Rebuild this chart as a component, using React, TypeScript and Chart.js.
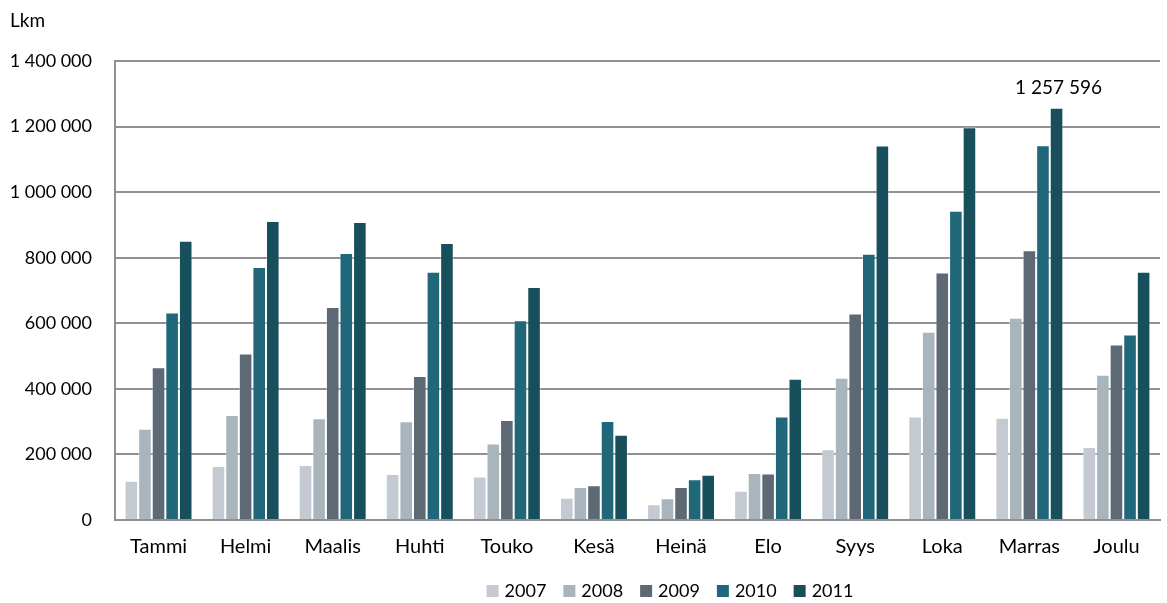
import React, { useEffect, useRef } from "react";
import { Chart, registerables } from "chart.js";

Chart.register(...registerables);

const months = ["Tammi", "Helmi", "Maalis", "Huhti", "Touko", "Kesä", "Heinä", "Elo", "Syys", "Loka", "Marras", "Joulu"];
const years = ["2007", "2008", "2009", "2010", "2011"];
const colors = ["#c3cad1", "#a9b5bd", "#5d6975", "#1f6779", "#184f5c"];

const v2007 = [120000, 165000, 168000, 140000, 133000, 68000, 48000, 89000, 216000, 316000, 312000, 223000];
const v2008 = [278000, 320000, 310000, 301000, 233000, 101000, 66000, 143000, 434000, 574000, 617000, 443000];
const v2009 = [466000, 508000, 650000, 439000, 305000, 106000, 101000, 142000, 630000, 755000, 823000, 535000];
const v2010 = [633000, 772000, 814000, 757000, 609000, 302000, 124000, 316000, 812000, 943000, 1143000, 566000];
const v2011 = [852000, 912000, 909000, 845000, 711000, 260000, 138000, 431000, 1142000, 1198000, 1257596, 757000];

const seriesValues = [v2007, v2008, v2009, v2010, v2011];
const yTicks = [0, 200000, 400000, 600000, 800000, 1000000, 1200000, 1400000];
const labelled = { dataset: 4, index: 10 };

const FONT = "Lato, 'Open Sans', sans-serif";

const fmt = (n: number) => String(Math.round(n)).replace(/\B(?=(\d{3})+(?!\d))/g, " ");

export default function App() {
  const ref = useRef<HTMLCanvasElement | null>(null);

  useEffect(() => {
    document.body.style.margin = "0";
    const canvas = ref.current;
    if (!canvas) return;

    const extras = {
      id: "extras",
      afterDraw(chart: any) {
        const ctx = chart.ctx;
        ctx.save();
        ctx.fillStyle = "#000";
        ctx.font = `19px ${FONT}`;
        ctx.textAlign = "left";
        ctx.textBaseline = "middle";
        ctx.fillText("Lkm", 10, 21);

        // value label above the highlighted bar
        const meta = chart.getDatasetMeta(labelled.dataset);
        const el = meta.data[labelled.index];
        if (el) {
          ctx.textAlign = "center";
          ctx.fillText(fmt(seriesValues[labelled.dataset][labelled.index]), el.x + 2, el.y - 20);
        }

        // legend
        ctx.font = `18px ${FONT}`;
        ctx.textAlign = "left";
        const box = 12;
        const gap = 6;
        const spacing = 17;
        const items = chart.data.datasets.map((d: any) => ({ text: d.label, color: d.backgroundColor }));
        const widths = items.map((it: any) => box + gap + ctx.measureText(it.text).width);
        const total = widths.reduce((a: number, b: number) => a + b, 0) + spacing * (items.length - 1);
        let x = 670 - total / 2;
        const cy = 591;
        items.forEach((it: any, i: number) => {
          ctx.fillStyle = it.color;
          ctx.fillRect(x, cy - box / 2, box, box);
          ctx.fillStyle = "#000";
          ctx.fillText(it.text, x + box + gap, cy);
          x += widths[i] + spacing;
        });
        ctx.restore();
      },
    };

    const chart = new Chart(canvas, {
      type: "bar",
      data: {
        labels: months,
        datasets: years.map((y, i) => ({
          label: y,
          data: seriesValues[i],
          backgroundColor: colors[i],
          borderColor: "rgba(255,255,255,0.35)",
          borderWidth: 1,
          categoryPercentage: 0.78,
          barPercentage: 1,
        })),
      },
      options: {
        animation: false,
        responsive: false,
        maintainAspectRatio: false,
        layout: { padding: { left: 0, right: 7, top: 61, bottom: 0 } },
        plugins: {
          legend: { display: false },
          tooltip: { enabled: false },
        },
        scales: {
          x: {
            afterFit: (scale: any) => {
              scale.height = 83;
            },
            grid: { display: false, drawTicks: false },
            border: { display: true, color: "#8f8f94", width: 2 },
            ticks: { color: "#000", padding: 15, font: { family: FONT, size: 20 } },
          },
          y: {
            min: 0,
            max: 1400000,
            afterFit: (scale: any) => {
              scale.width = 115;
            },
            afterBuildTicks: (scale: any) => {
              scale.ticks = yTicks.map((v) => ({ value: v }));
            },
            grid: { color: "#8f8f94", lineWidth: 2, drawTicks: false },
            border: { display: true, color: "#8f8f94", width: 2 },
            ticks: {
              color: "#000",
              padding: 23,
              font: { family: FONT, size: 18 },
              callback: (v: any) => fmt(Number(v)),
            },
          },
        },
      },
      plugins: [extras],
    });
    return () => chart.destroy();
  }, []);

  return (
    <div style={{ width: 1167, height: 603 }}>
      <canvas ref={ref} width={1167} height={603} style={{ display: "block" }} />
    </div>
  );
}
